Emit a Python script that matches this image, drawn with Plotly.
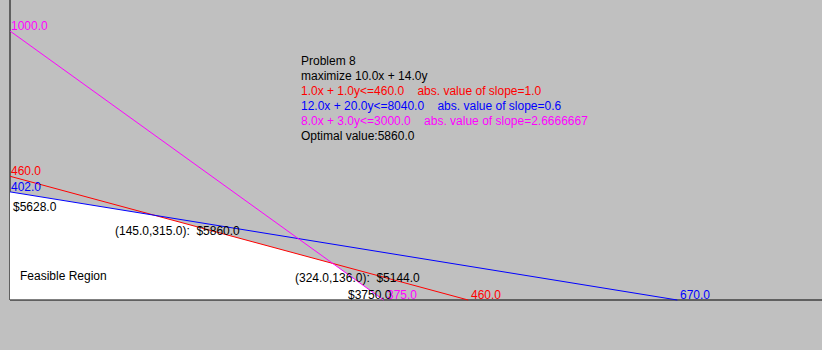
import plotly.graph_objects as go

# ---- data ----
problem_title = "Problem 8"
objective = [10.0, 14.0]
constraints_a = [1.0, 12.0, 8.0]
constraints_b = [1.0, 20.0, 3.0]
constraints_rhs = [460.0, 8040.0, 3000.0]
constraint_colors = ["#ff0000", "#0000ff", "#ff00ff"]
slopes = ["1.0", "0.6", "2.6666667"]
optimal_value = 5860.0
vertex_x = [0.0, 145.0, 324.0, 375.0]
vertex_y = [402.0, 315.0, 136.0, 0.0]

# ---- scales (pixels per unit) ----
W, H = 822, 350
ORIGIN_PX, ORIGIN_PY = 10, 300
SX, SY = 0.996, 0.269
X_RANGE = [-ORIGIN_PX / SX, (W - ORIGIN_PX) / SX]
Y_RANGE = [-(H - ORIGIN_PY) / SY, ORIGIN_PY / SY]

FONT = "Liberation Sans, Arial, sans-serif"
NB = "\u00a0"

fig = go.Figure()

# vertical axis (drawn below the feasible region)
fig.add_trace(go.Scatter(x=[0, 0], y=[0, Y_RANGE[1]], mode="lines",
                         line=dict(color="black", width=1), hoverinfo="skip"))

# feasible region
poly_x = [0.0] + vertex_x + [0.0]
poly_y = [0.0] + vertex_y + [0.0]
fig.add_trace(go.Scatter(x=poly_x, y=poly_y, mode="lines", fill="toself",
                         fillcolor="white", line=dict(width=0, color="white"),
                         hoverinfo="skip"))

# horizontal axis
fig.add_trace(go.Scatter(x=[0, X_RANGE[1]], y=[0, 0], mode="lines",
                         line=dict(color="black", width=1), hoverinfo="skip"))

annotations = []


def ann(x, y, text, color="black", xshift=0, yshift=0, xref="x", yref="y"):
    annotations.append(dict(x=x, y=y, xref=xref, yref=yref, text=text,
                            showarrow=False, xanchor="left", yanchor="middle",
                            xshift=xshift, yshift=yshift, borderpad=0,
                            borderwidth=0,
                            font=dict(family=FONT, size=12, color=color)))


# constraint lines and intercept labels
for a, b, r, c in zip(constraints_a, constraints_b, constraints_rhs, constraint_colors):
    xi, yi = r / a, r / b
    fig.add_trace(go.Scatter(x=[0, xi], y=[yi, 0], mode="lines",
                             line=dict(color=c, width=1), hoverinfo="skip"))
    ann(0, yi, f"{yi:.1f}", c, xshift=1, yshift=5)
    ann(xi, 0, f"{xi:.1f}", c, xshift=3, yshift=5)

# vertex labels
vshift = [(3, -15), (-39, -16), (-38, -15), (-36, 5)]
for (vx, vy), (dx, dy) in zip(zip(vertex_x, vertex_y), vshift):
    val = objective[0] * vx + objective[1] * vy
    if vx == 0 or vy == 0:
        txt = f"${val:.1f}"
    else:
        txt = f"({vx:.1f},{vy:.1f}):{NB}{NB}${val:.1f}"
    ann(vx, vy, txt, "black", xshift=dx, yshift=dy)

ann(20 / W, 1 - 276 / H, "Feasible Region", xref="paper", yref="paper")

# problem text block
lines = [(problem_title, "black"),
         (f"maximize {objective[0]:.1f}x + {objective[1]:.1f}y", "black")]
for a, b, r, c, s in zip(constraints_a, constraints_b, constraints_rhs,
                         constraint_colors, slopes):
    lines.append((f"{a:.1f}x + {b:.1f}y&lt;={r:.1f}" + NB * 4 +
                  f"abs. value of slope={s}", c))
lines.append((f"Optimal value:{optimal_value:.1f}", "black"))
for i, (t, c) in enumerate(lines):
    ann(301 / W, 1 - (61 + 15 * i) / H, t, c, xref="paper", yref="paper")

fig.update_layout(
    width=W, height=H, margin=dict(l=0, r=0, t=0, b=0),
    paper_bgcolor="#c0c0c0", plot_bgcolor="#c0c0c0",
    showlegend=False, annotations=annotations,
    xaxis=dict(range=X_RANGE, visible=False, fixedrange=True),
    yaxis=dict(range=Y_RANGE, visible=False, fixedrange=True),
)
fig.write_html("out.html", config={"displayModeBar": False})
